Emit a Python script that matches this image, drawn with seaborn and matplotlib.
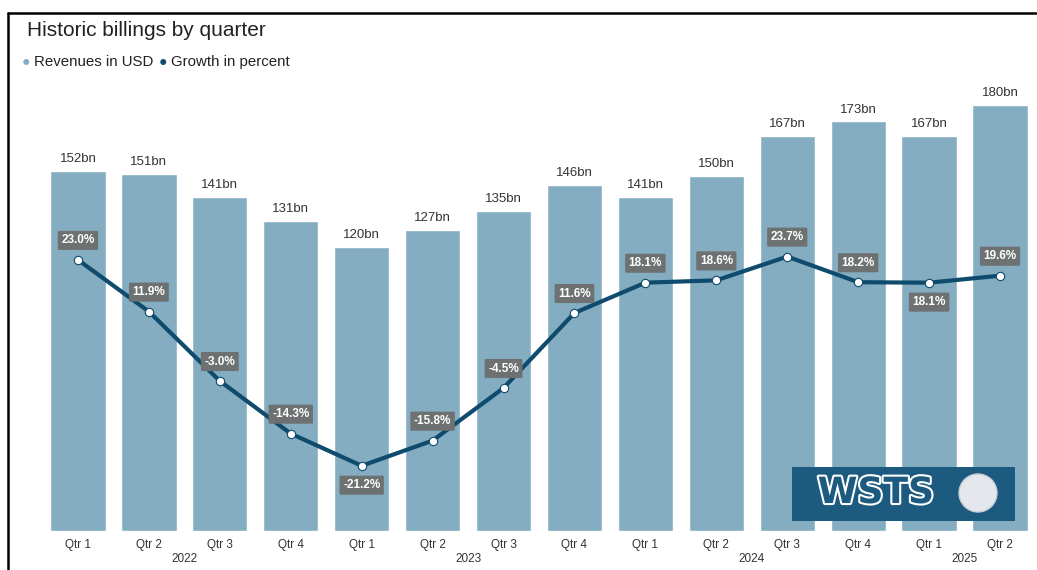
import matplotlib
matplotlib.use("Agg")
import matplotlib.pyplot as plt
import matplotlib.patches as mpatches
import matplotlib.patheffects as pe
from matplotlib.lines import Line2D
import numpy as np
import pandas as pd
import seaborn as sns

# data
quarters = ["Qtr 1", "Qtr 2", "Qtr 3", "Qtr 4",
            "Qtr 1", "Qtr 2", "Qtr 3", "Qtr 4",
            "Qtr 1", "Qtr 2", "Qtr 3", "Qtr 4",
            "Qtr 1", "Qtr 2"]
years = ["2022"] * 4 + ["2023"] * 4 + ["2024"] * 4 + ["2025"] * 2
revenues = [152, 151, 141, 131, 120, 127, 135, 146, 141, 150, 167, 173, 167, 180]
growth = [23.0, 11.9, -3.0, -14.3, -21.2, -15.8, -4.5, 11.6, 18.1, 18.6, 23.7, 18.2, 18.1, 19.6]
below = [False, False, False, False, True, False, False, False, False, False, False, False, True, False]

BAR = "#84adc1"
LINE = "#0e4b6c"
BOX = "#6e7172"

sns.set_theme(style="white")
plt.rcParams["font.family"] = ["Liberation Sans", "DejaVu Sans"]

df = pd.DataFrame({"pos": np.arange(len(revenues)), "rev": revenues, "growth": growth})

fig = plt.figure(figsize=(10.37, 5.70), dpi=100)
ax = fig.add_axes([42.5 / 1037, 1 - 531 / 570, 993 / 1037, 451 / 570])

sns.barplot(data=df, x="pos", y="rev", color=BAR, saturation=1, width=0.78, ax=ax)
ax.set_xlim(-0.5, len(revenues) - 0.5)
ax.set_ylim(0, 190.5)
for i, v in enumerate(revenues):
    ax.text(i, v + 2.5, f"{v}bn", ha="center", va="bottom", fontsize=9.5, color="#333333")

ax2 = ax.twinx()
sns.lineplot(data=df, x="pos", y="growth", color=LINE, linewidth=3, ax=ax2,
             marker="o", markersize=6, markerfacecolor="white", markeredgecolor=LINE,
             markeredgewidth=0.8)
ax2.set_ylim(-35.2, 61.6)
ax2.set_xlim(-0.5, len(revenues) - 0.5)
for i, (g, b) in enumerate(zip(growth, below)):
    ax2.annotate(f"{g:.1f}%", (i, g), xytext=(0, -14 if b else 14), textcoords="offset points",
                 ha="center", va="center", fontsize=8.5, fontweight="bold", color="white",
                 bbox=dict(boxstyle="round,pad=0.3,rounding_size=0.1", fc=BOX, ec="none"))

for a in (ax, ax2):
    a.set_xlabel("")
    a.set_ylabel("")
    a.set_yticks([])
    for s in a.spines.values():
        s.set_visible(False)
ax.set_xticks(range(len(quarters)))
ax.set_xticklabels(quarters, fontsize=8.5, color="#333333")
ax.tick_params(axis="x", length=0, pad=6)
ax2.tick_params(axis="x", length=0, labelbottom=False, labeltop=False)

# year labels centred under each group
for yr in ["2022", "2023", "2024", "2025"]:
    idx = [i for i, y in enumerate(years) if y == yr]
    ax.text(np.mean(idx), -0.063, yr, transform=ax.get_xaxis_transform(),
            ha="center", va="center", fontsize=8.5, color="#333333")

fig.text(27 / 1037, 1 - 30 / 570, "Historic billings by quarter", fontsize=15,
         color="#222222", va="center")
fig.text(22 / 1037, 1 - 62 / 570, "\u25cf", fontsize=10, color=BAR, va="center")
fig.text(34 / 1037, 1 - 62 / 570, "Revenues in USD", fontsize=10.8, color="#222222", va="center")
fig.text(159 / 1037, 1 - 62 / 570, "\u25cf", fontsize=10, color=LINE, va="center")
fig.text(171 / 1037, 1 - 62 / 570, "Growth in percent", fontsize=10.8, color="#222222", va="center")

# frame lines
fig.add_artist(Line2D([8 / 1037, 1], [1 - 13 / 570] * 2, color="black", lw=1.8))
fig.add_artist(Line2D([8 / 1037] * 2, [0, 1 - 13 / 570], color="black", lw=1.8))

# logo block
fig.add_artist(mpatches.Rectangle((792 / 1037, 1 - 521 / 570), 223 / 1037, 54 / 570,
                                  transform=fig.transFigure, fc="#1d5a80", ec="none"))
fig.text(876 / 1037, 1 - 493 / 570, "WSTS", fontsize=26, fontweight="bold",
         color="#1d5a80", ha="center", va="center", family="DejaVu Sans",
         path_effects=[pe.withStroke(linewidth=3, foreground="white")])
fig.add_artist(mpatches.Ellipse((978 / 1037, 1 - 493 / 570), 38 / 1037, 38 / 570,
                                transform=fig.transFigure, fc="#e4e8ec", ec="#c8ced4"))

fig.savefig("out.png", dpi=100)
